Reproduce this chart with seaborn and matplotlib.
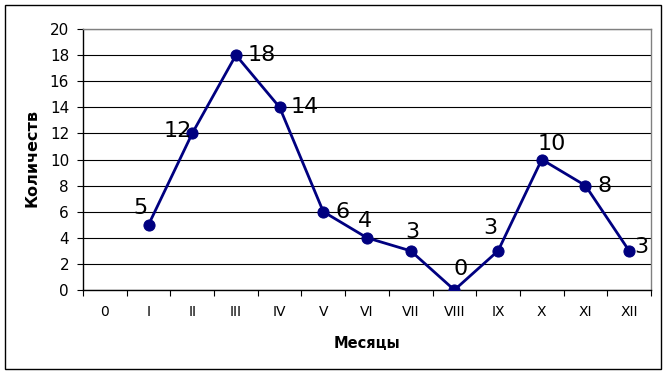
import matplotlib
matplotlib.use("Agg")
import matplotlib.pyplot as plt
from matplotlib.patches import Rectangle
import seaborn as sns
import pandas as pd

# ---- data ----
categories = ["0", "I", "II", "III", "IV", "V", "VI", "VII", "VIII", "IX", "X", "XI", "XII"]
months = ["I", "II", "III", "IV", "V", "VI", "VII", "VIII", "IX", "X", "XI", "XII"]
counts = [5, 12, 18, 14, 6, 4, 3, 0, 3, 10, 8, 3]
y_ticks = [0, 2, 4, 6, 8, 10, 12, 14, 16, 18, 20]

# label offsets (pixels, dx right / dy up) -- styling only
label_dx = [-8, -15, 26, 25, 19, -2, 2, 6, -8, 10, 19, 12]
label_dy = [17, 2, 0, 0, 0, 17, 19, 21, 23, 16, 0, 4]

W, H = 668, 375
fig = plt.figure(figsize=(W / 100, H / 100), dpi=100)
fig.patch.set_facecolor("white")

left, right, top, bottom = 83, 651, 29, 290
ax = fig.add_axes([left / W, 1 - bottom / H, (right - left) / W, (bottom - top) / H])

df = pd.DataFrame({"month": months, "count": counts})
df["pos"] = [categories.index(m) for m in months]

navy = "#000080"
sns.lineplot(data=df, x="pos", y="count", ax=ax, color=navy, linewidth=2.0,
             marker="o", markersize=8, markeredgecolor=navy, markerfacecolor=navy,
             zorder=3)

ax.set_xlim(-0.5, len(categories) - 0.5)
ax.set_ylim(0, 20)
ax.set_yticks(y_ticks)
ax.set_yticklabels([str(t) for t in y_ticks], fontsize=11)
ax.set_xticks(range(len(categories)))
ax.set_xticklabels(categories, fontsize=10)
ax.set_xticks([i - 0.5 for i in range(len(categories) + 1)], minor=True)
ax.tick_params(axis="x", which="major", length=0, pad=11)
ax.tick_params(axis="x", which="minor", length=4, width=0.8, color="black", direction="out")
ax.tick_params(axis="y", which="major", length=4, width=0.8, color="black", direction="out", pad=6)

ax.yaxis.grid(True, color="black", linewidth=0.8)
ax.xaxis.grid(False)
ax.set_axisbelow(True)
ax.set_xlabel("")
ax.set_ylabel("")

for s in ["top", "right"]:
    ax.spines[s].set_color("#808080")
    ax.spines[s].set_linewidth(1)
for s in ["left", "bottom"]:
    ax.spines[s].set_color("black")
    ax.spines[s].set_linewidth(1)

for x, y, v, dx, dy in zip(df["pos"], df["count"], counts, label_dx, label_dy):
    ax.annotate(str(v), (x, y), xytext=(dx * 0.72, dy * 0.72), textcoords="offset points",
                ha="center", va="center", fontsize=16, color="black", zorder=4)

fig.text(367 / W, 1 - 344 / H, "Месяцы", ha="center", va="center",
         fontsize=10.5, fontweight="bold")
fig.text(32 / W, 1 - 158 / H, "Количеств", ha="center", va="center",
         rotation=90, fontsize=11.5, fontweight="bold")

fig.patches.append(Rectangle((5 / W, 1 - 369 / H), 656 / W, 364 / H,
                             transform=fig.transFigure, fill=False,
                             edgecolor="black", linewidth=1))

fig.savefig("out.png", dpi=100)
